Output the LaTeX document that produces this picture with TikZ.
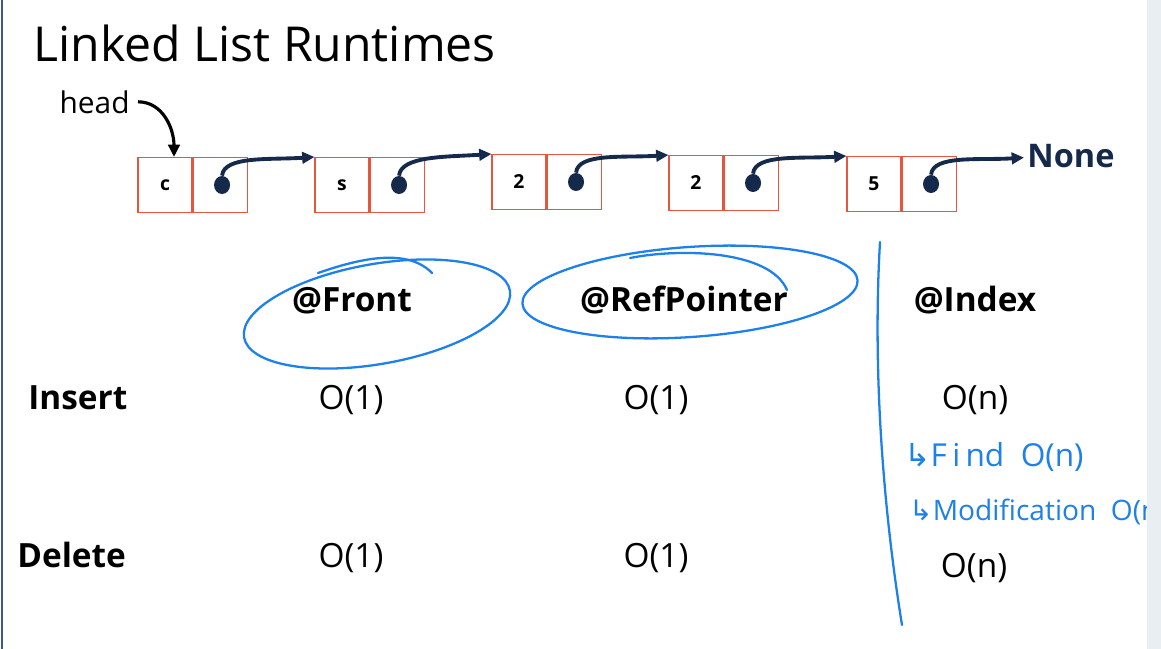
\documentclass[tikz,border=0pt]{standalone}
\usepackage{fontspec}
\setmainfont{Open Sans}
\newfontfamily\symfont{DejaVu Sans}
\usetikzlibrary{arrows.meta,positioning,calc,shapes.geometric}

\definecolor{boxred}{HTML}{E8553E}
\definecolor{navy}{HTML}{15294B}
\definecolor{pen}{HTML}{1E80EA}
\definecolor{band}{HTML}{E9EEF2}
\definecolor{edge}{HTML}{3F5A8A}

\begin{document}
\begin{tikzpicture}[x=0.02cm,y=-0.02cm,
    valcell/.style={draw=boxred,line width=0.6pt,minimum width=1.08cm,minimum height=1.1cm,
      inner sep=0pt,font=\fontsize{11}{13}\selectfont\bfseries},
    ptrcell/.style={draw=boxred,line width=0.6pt,minimum width=1.08cm,minimum height=1.1cm,inner sep=0pt},
    dotnode/.style={ellipse,fill=navy,inner sep=0pt,minimum width=0.32cm,minimum height=0.36cm},
    link/.style={draw=navy,line width=2.2pt,-{Triangle[length=7pt,width=6.5pt]}},
    headlink/.style={draw=black,line width=1.8pt,-{Triangle[length=7pt,width=6.5pt]}},
    colhead/.style={font=\fontsize{19}{22}\selectfont\bfseries,anchor=base},
    rowhead/.style={font=\fontsize{19}{22}\selectfont\bfseries,anchor=base west},
    cost/.style={font=\fontsize{19}{22}\selectfont,anchor=base},
    ink/.style={draw=pen,line width=1.3pt,line cap=round,line join=round},
    note/.style={text=pen,font=\fontsize{18}{21}\selectfont,anchor=base west}]
  \useasboundingbox (0,0) rectangle (1161,649);
  \fill[white] (0,0) rectangle (1161,649);
  \fill[band] (1147,0) rectangle (1161,649);
  \draw[edge,line width=1.2pt] (2,0) -- (2,649);

  % title
  \node[anchor=base west,inner sep=0pt,font=\fontsize{27.4}{33}\selectfont] (title) at (33,61) {Linked List Runtimes};

  % the list
  \foreach \i/\x/\y/\v in {1/165/185/c,2/342/185/s,3/519/182/2,4/696/183/2,5/874/184/5} {
    \node[valcell] (v\i) at (\x,\y) {\v};
    \node[ptrcell,right=0pt of v\i] (p\i) {};
    \node[dotnode] (d\i) at ($(p\i.center)+(2,0)$) {};
  }
  \node[anchor=base west,inner sep=0pt,text=navy,font=\fontsize{18.5}{22}\selectfont\bfseries] (none) at (1027,167) {None};
  \foreach \i/\j in {1/2,2/3,3/4,4/5}
    \draw[link] (d\i.north) .. controls +(2,-20) and +(-45,3) .. (v\j.north west);
  \draw[link] (d5.north) .. controls +(2,-20) and +(-45,3) .. ($(none.west)+(-3,2)$);

  \node[anchor=base east,inner sep=0pt,font=\fontsize{17}{20}\selectfont] (head) at (130,113) {head};
  \draw[headlink] ($(head.east)+(8,0)$) .. controls +(25,0) and +(0,-28) .. ($(v1.north)+(9,0)$);

  % table
  \node[colhead] (front) at (352,311) {@Front};
  \node[colhead] (refp) at (684,311) {@RefPointer};
  \node[colhead] (index) at (975,311) {@Index};
  \node[rowhead,inner sep=0pt] (ins) at (28,409) {Insert};
  \node[rowhead,inner sep=0pt] (del) at (17,567) {Delete};
  \node[cost] (ins1) at (351,409) {O(1)};
  \node[cost] (ins2) at (656,409) {O(1)};
  \node[cost] (ins3) at (975,409) {O(n)};
  \node[cost] (del1) at (351,567) {O(1)};
  \node[cost] (del2) at (656,567) {O(1)};
  \node[cost] (del3) at (974,577) {O(n)};

  % pen marks
  \draw[ink,rotate around={10:(377,314)}] (377,314) ellipse (2.7cm and 1.0cm);
  \draw[ink] (318,273) .. controls (350,262) and (405,245) .. (432,273);
  \draw[ink,rotate around={4:(690,292)}] (690,292) ellipse (3.36cm and 0.9cm);
  \draw[ink] (630,258) .. controls (680,248) and (770,250) .. (787,290);
  \draw[ink] (880,242) .. controls (872,380) and (885,520) .. (902,625);
  \node[note] (find) at (898,466) {{\symfont↳}F\,i\,nd\ \ O(n)};
  \node[note,font=\fontsize{16}{19}\selectfont] (modif) at (903,520) {{\symfont↳}Modification\ \ O(n)};
  \fill[band] (1147,420) rectangle (1161,560);
\end{tikzpicture}
\end{document}
